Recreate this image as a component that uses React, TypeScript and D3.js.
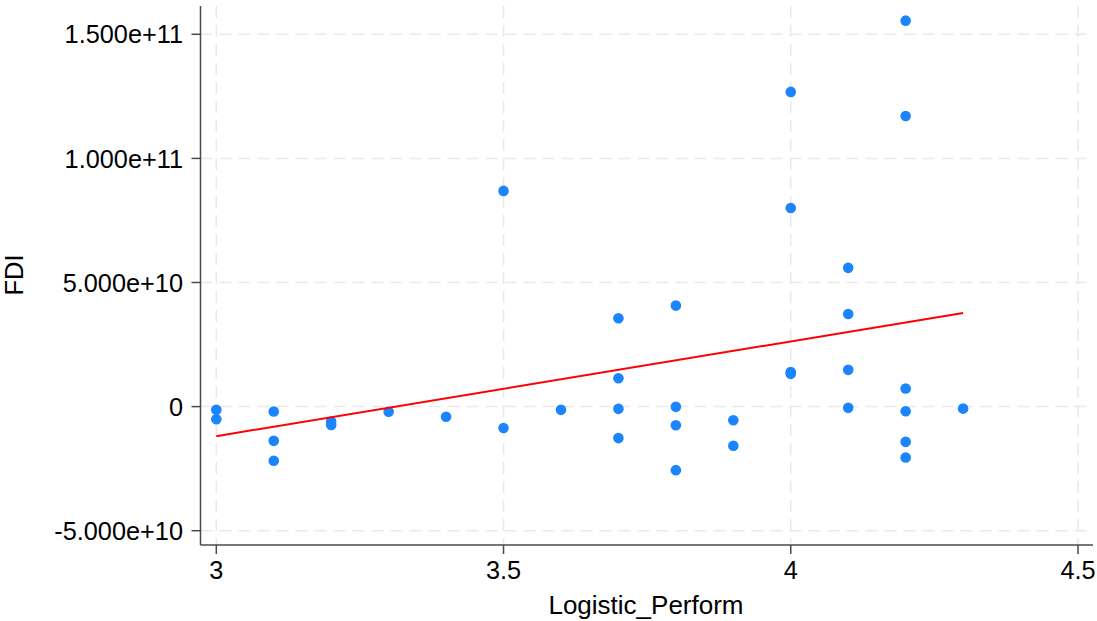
import React from "react";
import * as d3 from "d3";

const xTicks = [3, 3.5, 4, 4.5];
const xTickLabels = ["3", "3.5", "4", "4.5"];
const yTicks = [-5e10, 0, 5e10, 1e11, 1.5e11];
const yTickLabels = ["-5.000e+10", "0", "5.000e+10", "1.000e+11", "1.500e+11"];

const logisticPerform = [
  3.0, 3.0,
  3.1, 3.1, 3.1,
  3.2, 3.2,
  3.3,
  3.4,
  3.5, 3.5,
  3.6,
  3.7, 3.7, 3.7, 3.7,
  3.8, 3.8, 3.8, 3.8,
  3.9, 3.9,
  4.0, 4.0, 4.0, 4.0,
  4.1, 4.1, 4.1, 4.1,
  4.2, 4.2, 4.2, 4.2, 4.2, 4.2,
  4.3,
];
const fdi = [
  -0.13e10, -0.51e10,
  -0.20e10, -1.38e10, -2.18e10,
  -0.60e10, -0.74e10,
  -0.21e10,
  -0.41e10,
  -0.86e10, 8.69e10,
  -0.13e10,
  3.56e10, 1.14e10, -0.09e10, -1.27e10,
  4.07e10, -0.01e10, -0.75e10, -2.56e10,
  -0.55e10, -1.58e10,
  12.68e10, 8.0e10, 1.39e10, 1.32e10,
  5.59e10, 3.73e10, 1.48e10, -0.05e10,
  15.55e10, 11.71e10, 0.73e10, -0.19e10, -1.42e10, -2.05e10,
  -0.08e10,
];

const W = 1097;
const H = 621;
const axisLeft = 200.5;
const axisRight = 1093;
const axisTop = 6;
const axisBottom = 545;
const FONT = "'Liberation Sans', Arial, Helvetica, sans-serif";

export default function App() {
  const x = d3.scaleLinear().domain([3, 4.5]).range([216.3, 1078]);
  const y = d3.scaleLinear().domain([-5e10, 1.5e11]).range([530.7, 34.3]);

  const pts = logisticPerform.map((xv, i) => ({ xv, yv: fdi[i] }));
  const mx = d3.mean(logisticPerform) as number;
  const my = d3.mean(fdi) as number;
  let sxy = 0, sxx = 0;
  pts.forEach((p) => {
    sxy += (p.xv - mx) * (p.yv - my);
    sxx += (p.xv - mx) * (p.xv - mx);
  });
  const slope = sxy / sxx;
  const intercept = my - slope * mx;
  const [x0, x1] = d3.extent(logisticPerform) as [number, number];
  const fitLine = d3.line<number>().x((d) => x(d)).y((d) => y(intercept + slope * d));

  const gridColor = "#e9e9e9";
  const axisColor = "#4a4a4a";

  return (
    <svg
      width={W}
      height={H}
      style={{ position: "absolute", left: 0, top: 0, background: "#fff" }}
      fontFamily={FONT}
    >
      {yTicks.map((t, i) => (
        <line key={"gy" + i} x1={axisLeft} x2={axisRight} y1={y(t)} y2={y(t)}
          stroke={gridColor} strokeWidth={1.5} strokeDasharray="12,7" />
      ))}
      {xTicks.map((t, i) => (
        <line key={"gx" + i} x1={x(t)} x2={x(t)} y1={axisTop} y2={axisBottom}
          stroke={gridColor} strokeWidth={1.5} strokeDasharray="12,7" />
      ))}

      {pts.map((p, i) => (
        <circle key={"p" + i} cx={x(p.xv)} cy={y(p.yv)} r={5.3} fill="#1a85ff" />
      ))}

      <path d={fitLine([x0, x1]) || ""} fill="none" stroke="#ff0000" strokeWidth={2} />

      <line x1={axisLeft} x2={axisLeft} y1={axisTop} y2={axisBottom} stroke={axisColor} strokeWidth={1.5} />
      <line x1={axisLeft} x2={axisRight} y1={axisBottom} y2={axisBottom} stroke={axisColor} strokeWidth={1.5} />

      {yTicks.map((t, i) => (
        <g key={"ty" + i}>
          <line x1={axisLeft - 9} x2={axisLeft} y1={y(t)} y2={y(t)} stroke={axisColor} strokeWidth={1.5} />
          <text x={183} y={y(t)} dy="0.36em" textAnchor="end" fontSize={25.3} fill="#000">
            {yTickLabels[i]}
          </text>
        </g>
      ))}
      {xTicks.map((t, i) => (
        <g key={"tx" + i}>
          <line x1={x(t)} x2={x(t)} y1={axisBottom} y2={axisBottom + 9} stroke={axisColor} strokeWidth={1.5} />
          <text x={x(t)} y={579} textAnchor="middle" fontSize={25.3} fill="#000">
            {xTickLabels[i]}
          </text>
        </g>
      ))}

      <text x={646} y={614} textAnchor="middle" fontSize={26} fill="#000">Logistic_Perform</text>
      <text transform="translate(23,275) rotate(-90)" textAnchor="middle" fontSize={25.5} fill="#000">FDI</text>
    </svg>
  );
}
